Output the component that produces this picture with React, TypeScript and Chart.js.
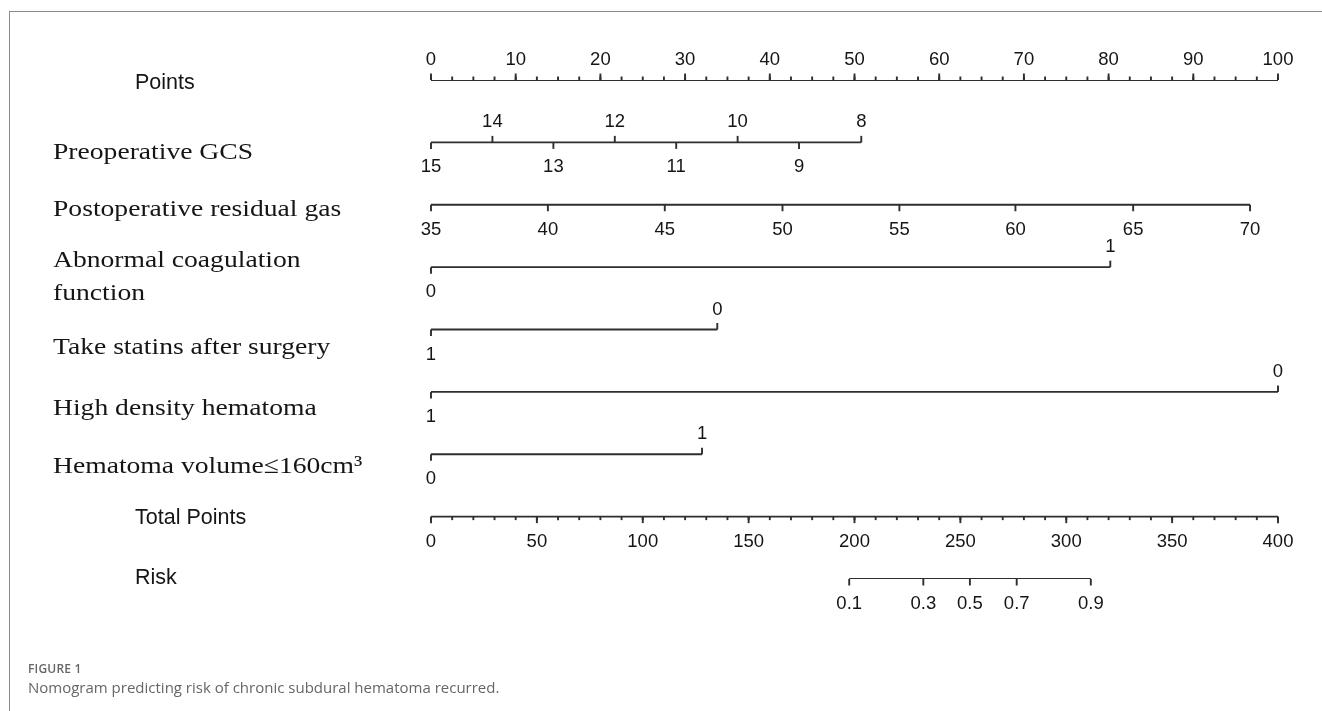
import React, { useEffect, useRef } from "react";
import { Chart, registerables } from "chart.js";

Chart.register(...registerables);

// ---------- data ----------
const pointsTicks = [0, 10, 20, 30, 40, 50, 60, 70, 80, 90, 100];
const pointsMinorStep = 2.5;

const gcsLabels = ["15", "14", "13", "12", "11", "10", "9", "8"];
const gcsPoints = [0, 7.25, 14.45, 21.7, 28.95, 36.2, 43.45, 50.8];

const gasLabels = ["35", "40", "45", "50", "55", "60", "65", "70"];
const gasPoints = [0, 13.8, 27.6, 41.5, 55.3, 69.0, 82.9, 96.7];

const coagLabels = ["0", "1"];
const coagPoints = [0, 80.2];

const statinLabels = ["1", "0"];
const statinPoints = [0, 33.8];

const densityLabels = ["1", "0"];
const densityPoints = [0, 100];

const volumeLabels = ["0", "1"];
const volumePoints = [0, 32.0];

const totalTicks = [0, 50, 100, 150, 200, 250, 300, 350, 400];
const totalMinorStep = 10;

const riskLabels = ["0.1", "0.3", "0.5", "0.7", "0.9"];
const riskTotalPoints = [197.5, 232.5, 254.5, 276.6, 311.6];

const rowNames = [
  "Points",
  "Preoperative GCS",
  "Postoperative residual gas",
  "Abnormal coagulation\nfunction",
  "Take statins after surgery",
  "High density hematoma",
  "Hematoma volume≤160cm³",
  "Total Points",
  "Risk",
];

// ---------- layout / style ----------
type Side = "above" | "below" | "alt";
interface Row {
  labels: string[];
  values: number[];
  axis: "x" | "xt";
  side: Side;
  minorStep?: number;
  minorMax?: number;
  nameFont: "sans" | "serif";
  nameOffset: number;
}

const rows: Row[] = [
  { labels: pointsTicks.map(String), values: pointsTicks, axis: "x", side: "above", minorStep: pointsMinorStep, minorMax: 100, nameFont: "sans", nameOffset: 9 },
  { labels: gcsLabels, values: gcsPoints, axis: "x", side: "alt", nameFont: "serif", nameOffset: 17 },
  { labels: gasLabels, values: gasPoints, axis: "x", side: "below", nameFont: "serif", nameOffset: 11 },
  { labels: coagLabels, values: coagPoints, axis: "x", side: "alt", nameFont: "serif", nameOffset: 0 },
  { labels: statinLabels, values: statinPoints, axis: "x", side: "alt", nameFont: "serif", nameOffset: 24 },
  { labels: densityLabels, values: densityPoints, axis: "x", side: "alt", nameFont: "serif", nameOffset: 23 },
  { labels: volumeLabels, values: volumePoints, axis: "x", side: "alt", nameFont: "serif", nameOffset: 19 },
  { labels: totalTicks.map(String), values: totalTicks, axis: "xt", side: "below", minorStep: totalMinorStep, minorMax: 400, nameFont: "sans", nameOffset: 7 },
  { labels: riskLabels, values: riskTotalPoints, axis: "xt", side: "below", nameFont: "sans", nameOffset: 5 },
];

const LINE = "#2e2e2e";
const TEXT = "#151515";
const LW = 1.9;
const TICK_FONT = '18.5px "Liberation Sans", Arial, sans-serif';
const SANS_NAME_FONT = '21.5px "Liberation Sans", Arial, sans-serif';
const SERIF_NAME_FONT = '24px "Liberation Serif", "Times New Roman", serif';
const SERIF_SX = 1.15;

function drawText(ctx: CanvasRenderingContext2D, s: string, x: number, y: number, font: string, align: CanvasTextAlign, sx = 1) {
  ctx.save();
  ctx.font = font;
  ctx.translate(x, y);
  ctx.scale(sx, 1);
  ctx.textAlign = align;
  ctx.textBaseline = "alphabetic";
  ctx.fillStyle = TEXT;
  ctx.fillText(s, 0, 0);
  ctx.restore();
}

const nomogramPlugin = {
  id: "nomogram",
  afterDatasetsDraw(chart: any) {
    const ctx: CanvasRenderingContext2D = chart.ctx;
    const yScale = chart.scales.y;
    rows.forEach((row, i) => {
      const xs = chart.scales[row.axis];
      const yp = yScale.getPixelForValue(i);
      ctx.save();
      ctx.strokeStyle = LINE;
      ctx.lineWidth = LW;
      ctx.lineCap = "butt";
      // minor ticks
      if (row.minorStep) {
        for (let v = 0; v <= (row.minorMax || 0) + 1e-6; v += row.minorStep) {
          const xp = xs.getPixelForValue(v);
          const dir = row.side === "above" ? -1 : 1;
          ctx.beginPath();
          ctx.moveTo(xp, yp);
          ctx.lineTo(xp, yp + dir * 3.5);
          ctx.stroke();
        }
      }
      row.values.forEach((v, k) => {
        const xp = xs.getPixelForValue(v);
        let above = row.side === "above";
        if (row.side === "alt") above = k % 2 === 1;
        const dir = above ? -1 : 1;
        ctx.beginPath();
        ctx.moveTo(xp, yp);
        ctx.lineTo(xp, yp + dir * 6.5);
        ctx.stroke();
        drawText(ctx, row.labels[k], xp, above ? yp - 15 : yp + 30, TICK_FONT, "center");
      });
      ctx.restore();
      // row name
      const lines = rowNames[i].split("\n");
      lines.forEach((ln, j) => {
        if (row.nameFont === "sans") {
          drawText(ctx, ln, 135, yp + row.nameOffset, SANS_NAME_FONT, "left");
        } else {
          drawText(ctx, ln, 53, yp + row.nameOffset + j * 33, SERIF_NAME_FONT, "left", SERIF_SX);
        }
      });
    });
  },
};

export default function App() {
  const ref = useRef<HTMLCanvasElement>(null);
  useEffect(() => {
    if (!ref.current) return;
    const datasets = rows.map((row, i) => ({
      data: [
        { x: row.values[0], y: i },
        { x: row.values[row.values.length - 1], y: i },
      ],
      xAxisID: row.axis,
      showLine: true,
      borderColor: LINE,
      borderWidth: LW,
      pointRadius: 0,
      fill: false,
    }));
    const chart = new Chart(ref.current, {
      type: "scatter",
      data: { datasets },
      options: {
        responsive: false,
        maintainAspectRatio: false,
        animation: false,
        events: [],
        layout: { padding: { left: 431, right: 44, top: 80, bottom: 132 } },
        scales: {
          x: { type: "linear", min: 0, max: 100, display: false },
          xt: { type: "linear", axis: "x", min: 0, max: 400, display: false },
          y: { type: "linear", min: 0, max: 8, reverse: true, display: false },
        },
        plugins: { legend: { display: false }, tooltip: { enabled: false } },
      },
      plugins: [nomogramPlugin],
    } as any);
    return () => chart.destroy();
  }, []);

  return (
    <div style={{ position: "absolute", left: 0, top: 0, width: 1322, height: 711, background: "#fff", overflow: "hidden" }}>
      <div style={{ position: "absolute", left: 9, top: 11, width: 1330, height: 720, borderTop: "1.5px solid #8a8a8a", borderLeft: "1.5px solid #8a8a8a" }} />
      <canvas ref={ref} width={1322} height={711} style={{ position: "absolute", left: 0, top: 0, width: 1322, height: 711 }} />
      <div style={{ position: "absolute", left: 28, top: 660, fontFamily: '"Open Sans", "Noto Sans", sans-serif', color: "#666", fontSize: 12, fontWeight: 600, letterSpacing: 0.2 }}>
        FIGURE 1
      </div>
      <div style={{ position: "absolute", left: 28, top: 677, fontFamily: '"Open Sans", "Noto Sans", sans-serif', color: "#666", fontSize: 15 }}>
        Nomogram predicting risk of chronic subdural hematoma recurred.
      </div>
    </div>
  );
}
